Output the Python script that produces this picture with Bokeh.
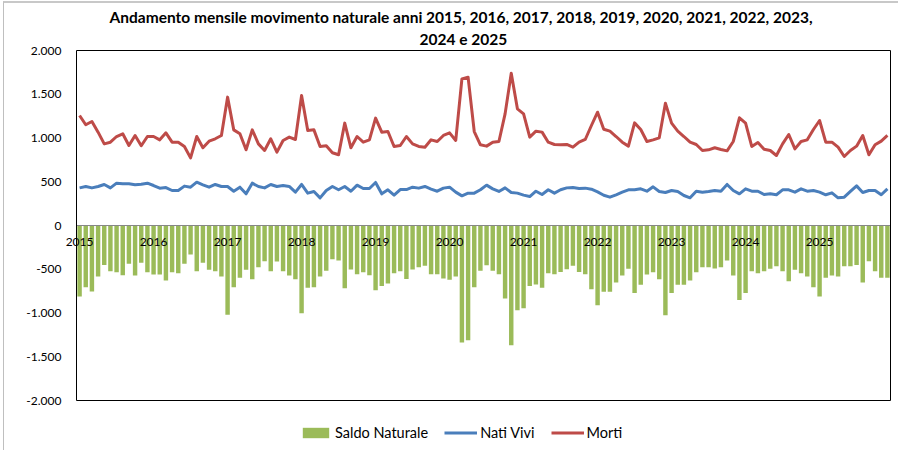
from bokeh.plotting import figure
from bokeh.layouts import column
from bokeh.models import (Range1d, FixedTicker, Title, Legend, LegendItem, LinearAxis,
                          BoxAnnotation)
from bokeh.embed import file_html
from bokeh.resources import INLINE

# ---------------- data ----------------
years = ["2015", "2016", "2017", "2018", "2019", "2020", "2021", "2022", "2023", "2024", "2025"]

saldo_naturale = [
    -811, -705, -754, -583, -450, -522, -533, -568, -438, -572, -427, -533,
    -560, -560, -629, -533, -545, -438, -331, -522, -427, -507, -522, -583,
    -1021, -705, -598, -507, -613, -476, -408, -522, -411, -522, -572, -613,
    -1002, -712, -705, -583, -518, -385, -400, -716, -503, -556, -533, -568,
    -739, -690, -663, -545, -522, -610, -503, -476, -461, -556, -556, -606,
    -621, -583, -1337, -1311, -705, -518, -453, -518, -556, -834, -1368, -968,
    -945, -690, -674, -712, -545, -556, -530, -499, -461, -530, -556, -728,
    -911, -758, -758, -652, -572, -495, -770, -678, -560, -533, -613, -1025,
    -770, -678, -678, -629, -533, -476, -476, -491, -476, -400, -572, -850,
    -770, -522, -545, -522, -495, -465, -522, -636, -507, -545, -583, -705,
    -811, -598, -572, -583, -465, -465, -450, -652, -408, -522, -598, -598]

nati_vivi = [
    430, 446, 430, 446, 469, 430, 484, 476, 476, 465, 472, 484,
    457, 427, 434, 400, 400, 450, 438, 495, 465, 438, 469, 446,
    446, 392, 438, 362, 484, 446, 430, 469, 446, 457, 446, 381,
    469, 370, 389, 316, 400, 446, 408, 446, 392, 461, 423, 423,
    492, 362, 408, 347, 411, 411, 438, 427, 446, 415, 392, 427,
    438, 381, 339, 370, 370, 408, 461, 419, 389, 430, 377, 370,
    347, 331, 392, 354, 408, 370, 408, 430, 434, 422, 427, 415,
    384, 346, 324, 351, 381, 408, 408, 419, 392, 442, 389, 377,
    400, 389, 343, 316, 392, 381, 389, 400, 392, 469, 400, 362,
    419, 392, 392, 354, 362, 351, 408, 408, 381, 419, 392, 400,
    381, 351, 373, 316, 324, 389, 453, 377, 400, 400, 351, 419]

morti = [
    1257, 1151, 1189, 1067, 933, 952, 1017, 1048, 914, 1029, 911, 1017,
    1017, 979, 1059, 952, 952, 903, 773, 1017, 888, 964, 991, 1029,
    1467, 1093, 1048, 865, 1093, 933, 857, 991, 838, 972, 1010, 983,
    1486, 1086, 1093, 903, 911, 831, 808, 1170, 888, 1017, 952, 979,
    1227, 1067, 1074, 903, 914, 1017, 933, 903, 895, 979, 960, 1029,
    1059, 972, 1676, 1695, 1074, 922, 907, 952, 960, 1276, 1741, 1333,
    1276, 1010, 1078, 1067, 952, 926, 922, 926, 895, 952, 983, 1143,
    1295, 1100, 1078, 1017, 952, 907, 1173, 1097, 960, 979, 1002, 1398,
    1170, 1078, 1017, 952, 926, 857, 865, 888, 869, 853, 960, 1231,
    1170, 903, 949, 872, 857, 800, 933, 1040, 876, 960, 979, 1097,
    1200, 952, 952, 895, 789, 857, 907, 1029, 808, 922, 964, 1029]

y_ticks = [-2000, -1500, -1000, -500, 0, 500, 1000, 1500, 2000]
y_tick_labels = ["-2.000", "-1.500", "-1.000", "-500", "0", "500", "1.000", "1.500", "2.000"]

title_line1 = "Andamento mensile movimento naturale anni 2015, 2016, 2017, 2018, 2019, 2020, 2021, 2022, 2023,"
title_line2 = "2024 e 2025"

C_SALDO, C_NATI, C_MORTI = "#9BBB59", "#4A7EBB", "#BE4B48"

# ---------------- main chart ----------------
FONT = "Lato"
n = len(morti)
idx = list(range(n))
y_min, y_max = y_ticks[0], y_ticks[-1]

# plot area: 814 x 350 px; the frame is a little wider so that the first
# category label can overhang the left edge of the plot area without clipping
cat_per_px = n / 814.0
val_per_px = (y_max - y_min) / 350.0
x_lo = -0.5 - 13 * cat_per_px
x_hi = n - 0.5 + 1 * cat_per_px

p = figure(width=888, height=412, output_backend="svg", toolbar_location=None,
           title=None, x_range=Range1d(x_lo, x_hi),
           y_range=Range1d(y_min - val_per_px, y_max + val_per_px),
           min_border_left=59, min_border_right=1, min_border_top=46, min_border_bottom=14)
p.background_fill_color = "white"
p.border_fill_color = "white"
p.outline_line_color = None
p.xgrid.visible = False
p.ygrid.visible = False
p.xaxis.visible = False

ya = p.yaxis[0]
ya.ticker = FixedTicker(ticks=y_ticks)
ya.major_label_overrides = {t: l for t, l in zip(y_ticks, y_tick_labels)}
ya.major_tick_out = 0
ya.major_tick_in = 0
ya.minor_tick_out = 0
ya.minor_tick_in = 0
ya.axis_line_color = None
ya.major_label_text_font = FONT
ya.major_label_text_font_size = "12px"
ya.major_label_text_color = "black"
ya.major_label_standoff = 2

bars = p.vbar(x=idx, top=saldo_naturale, bottom=0, width=0.72,
              fill_color=C_SALDO, line_color=None)
# horizontal category axis line at zero
p.segment(x0=[-0.5], y0=[0], x1=[n - 0.5], y1=[0], line_color="#878787", line_width=1)
p.line(idx, nati_vivi, line_color=C_NATI, line_width=3, line_join="round")
p.line(idx, morti, line_color=C_MORTI, line_width=3, line_join="round")

# plot-area border
p.add_layout(BoxAnnotation(left=-0.5, right=n - 0.5, bottom=y_min, top=y_max,
                           fill_alpha=0, fill_color=None, line_color="black",
                           line_width=1, line_alpha=1))

# category labels (years) hanging below the zero line
year_ticks = [years.index(y) * 12 for y in years]
xa = LinearAxis(fixed_location=0, ticker=FixedTicker(ticks=year_ticks),
                major_label_overrides={t: y for t, y in zip(year_ticks, years)})
xa.axis_line_color = None
xa.major_tick_out = 0
xa.major_tick_in = 0
xa.minor_tick_out = 0
xa.minor_tick_in = 0
xa.major_label_standoff = 12
xa.major_label_text_font = FONT
xa.major_label_text_font_size = "12px"
xa.major_label_text_color = "black"
p.add_layout(xa, "below")

# title (two lines; the first one added sits closest to the plot)
p.add_layout(Title(text=title_line2, align="left", offset=356, standoff=4,
                   text_font=FONT, text_font_style="bold", text_font_size="15.5px",
                   text_color="black"), "above")
p.add_layout(Title(text=title_line1, align="left", offset=46, standoff=0,
                   text_font=FONT, text_font_style="bold", text_font_size="15.5px",
                   text_color="black"), "above")

# ---------------- legend strip ----------------
q = figure(width=888, height=30, output_backend="svg", toolbar_location=None,
           title=None, x_range=Range1d(-100, -99), y_range=Range1d(0, 1),
           min_border=0, min_border_left=59, min_border_right=1,
           min_border_top=0, min_border_bottom=0)
q.axis.visible = False
q.xgrid.visible = False
q.ygrid.visible = False
q.outline_line_color = None
q.background_fill_color = "white"
q.border_fill_color = "white"
# key glyphs (same series, outside the visible range of this strip)
k_saldo = q.vbar(x=idx, top=saldo_naturale, width=0.72, fill_color=C_SALDO, line_color=None)
k_nati = q.line(idx, nati_vivi, line_color=C_NATI, line_width=3)
k_morti = q.line(idx, morti, line_color=C_MORTI, line_width=3)

legend = Legend(items=[LegendItem(label="Saldo Naturale", renderers=[k_saldo]),
                       LegendItem(label="Nati Vivi", renderers=[k_nati]),
                       LegendItem(label="Morti", renderers=[k_morti])],
                orientation="horizontal", location=(236, 4),
                glyph_width=33, glyph_height=13, label_height=13, label_standoff=3,
                spacing=16, padding=0, margin=0, border_line_color=None,
                background_fill_alpha=0, label_text_font=FONT,
                label_text_font_size="14.5px", label_text_color="black")
q.add_layout(legend)

layout = column(p, q, spacing=0)
# light grey chart-area border (top and left edges, as in the reference)
layout.styles = {"margin-left": "3px", "margin-top": "1px",
                 "padding-right": "6px", "padding-bottom": "5px",
                 "border-left": "1px solid #BFBFBF", "border-top": "2px solid #C8C8C8"}
open("out.html", "w").write(file_html(layout, INLINE))
